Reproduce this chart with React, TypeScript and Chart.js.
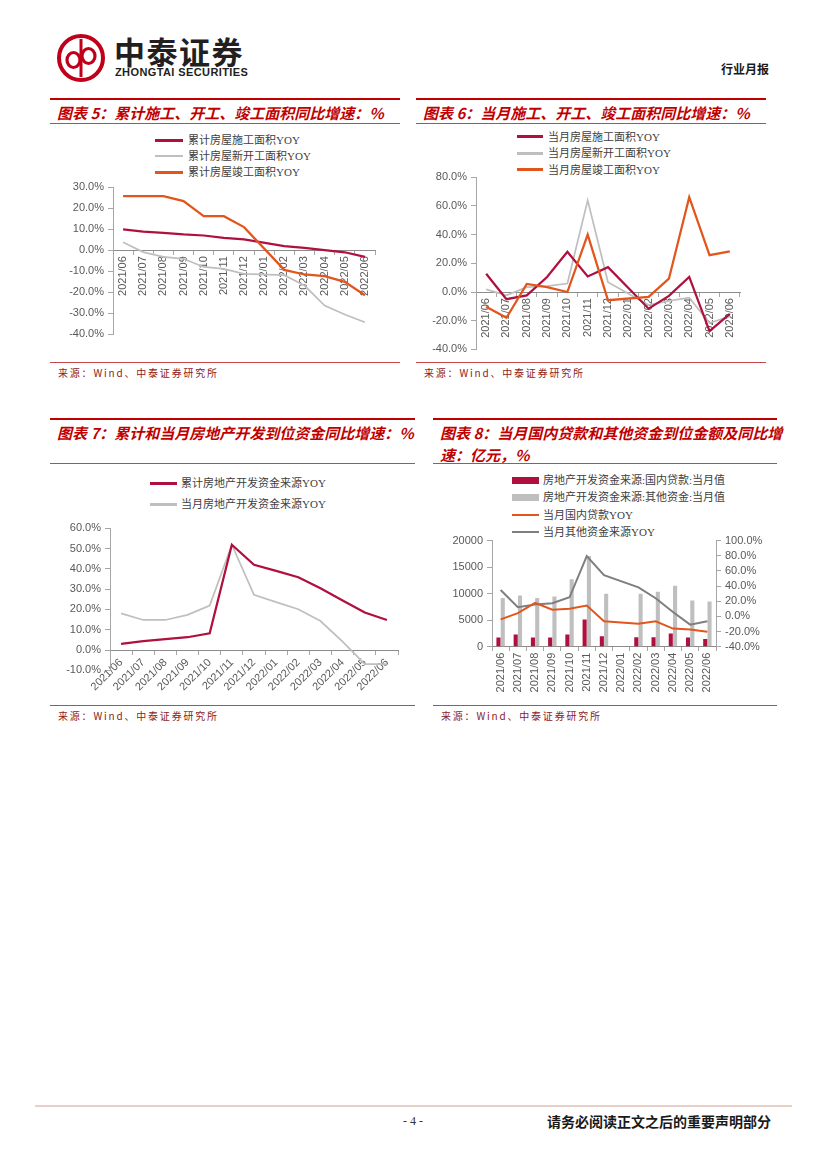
import React, { useEffect, useRef } from "react";
import { Chart, registerables } from "chart.js";
Chart.register(...registerables);

// ---------------- DATA ----------------
const months = ["2021/06", "2021/07", "2021/08", "2021/09", "2021/10", "2021/11", "2021/12", "2022/01", "2022/02", "2022/03", "2022/04", "2022/05", "2022/06"];

// 图表5 累计 (%)
const cumConstructionYoY = [9.9, 8.8, 8.3, 7.5, 7.0, 5.9, 5.1, null, 1.9, 1.1, 0.0, -1.0, -3.2];
const cumNewStartYoY = [3.8, -0.9, -3.2, -4.1, -8.0, -8.9, -11.3, null, -11.9, -16.9, -26.4, -30.7, -34.4];
const cumCompletionYoY = [25.8, 25.8, 25.8, 23.4, 16.2, 16.2, 11.0, null, -9.4, -11.6, -12.4, -15.1, -21.5];

// 图表6 当月 (%)
const monConstructionYoY = [12.7, -5.0, -2.3, 10.5, 28.0, 10.9, 17.3, null, -11.6, -2.7, 10.5, -27.3, -15.2];
const monNewStartYoY = [1.8, -2.3, 3.4, 4.1, 5.9, 63.9, 6.8, null, -9.1, -6.1, -3.9, -21.6, -17.0];
const monCompletionYoY = [-10.2, -18.0, 5.7, 3.4, 0.0, 40.0, -5.7, null, -3.4, 9.3, 66.1, 25.7, 28.4];

// 图表7 (%)
const cumFundsYoY = [3.0, 4.4, 5.4, 6.3, 8.2, 51.9, 42.0, 39.0, 35.9, 30.5, 24.4, 18.5, 14.8];
const monFundsYoY = [18.1, 14.8, 14.8, 17.3, 21.9, 51.9, 27.2, 23.6, 20.1, 14.3, 4.1, -6.9, -6.9];

// 图表8 (亿元 / %)
const domesticLoanMonthly = [1740, 2300, 1740, 1740, 2300, 5150, 1990, null, 1800, 1800, 2480, 1740, 1430];
const otherFundsMonthly = [9190, 9630, 9190, 9440, 12730, 17080, 10000, null, 10000, 10370, 11490, 8700, 8510];
const domesticLoanYoY = [-3.9, 4.3, 17.8, 8.7, 10.0, 14.3, -6.5, null, -9.6, -6.5, -16.1, -17.4, -20.4];
const otherFundsYoY = [34.8, 12.2, 15.7, 17.4, 25.2, 79.6, 54.3, null, 38.3, 23.9, 5.7, -10.9, -6.5];

// ---------------- STYLE ----------------
const CRIMSON = "#B0103E";
const ORANGE = "#E2561B";
const LGRAY = "#BFBFBF";
const DGRAY = "#7F7F7F";
const RED = "#C00000";
const tickFont = { family: "'Liberation Sans', Arial, sans-serif", size: 11 };
const tickColor = "#595959";
const axisColor = "#A6A6A6";
const cjk = "'Noto Sans CJK SC', 'Noto Sans', sans-serif";
const legendFont = "'Liberation Serif', 'Noto Sans CJK SC', serif";

type Box = { x: number; y: number; w: number; h: number };
type Plot = { l: number; r: number; t: number; b: number };

function padFor(box: Box, plot: Plot, yW: number, y2W: number) {
  return {
    left: plot.l - box.x - yW,
    right: box.x + box.w - plot.r - y2W,
    top: plot.t - box.y,
    bottom: box.y + box.h - plot.b,
  };
}

const pct = (v: any) => Number(v).toFixed(1) + "%";

function yAxis(min: number, max: number, step: number, fmt: (v: any) => string, position: string, width: number) {
  return {
    position,
    min,
    max,
    ticks: { stepSize: step, color: tickColor, font: tickFont, padding: 4, callback: fmt, autoSkip: false },
    grid: { drawOnChartArea: false, drawTicks: true, tickLength: 5, color: axisColor },
    border: { display: true, color: axisColor, width: 1 },
    afterFit: (s: any) => {
      s.width = width;
    },
  };
}

function xAxis(rotation: number, yId: string) {
  return {
    type: "category",
    position: { [yId]: 0 },
    offset: true,
    ticks: { color: tickColor, font: tickFont, autoSkip: false, minRotation: rotation, maxRotation: rotation, padding: 2 },
    grid: { offset: true, drawOnChartArea: false, drawTicks: true, tickLength: 4, color: axisColor },
    border: { display: true, color: "#8C8C8C", width: 1 },
  };
}

function line(label: string, data: any[], color: string, width: number, order: number, yAxisID = "y") {
  return {
    type: "line",
    label,
    data,
    borderColor: color,
    backgroundColor: color,
    borderWidth: width,
    pointRadius: 0,
    tension: 0,
    spanGaps: true,
    fill: false,
    order,
    yAxisID,
  };
}

const basePlugins = { legend: { display: false }, tooltip: { enabled: false }, title: { display: false } };

function ChartCanvas({ box, make }: { box: Box; make: () => any }) {
  const ref = useRef<HTMLCanvasElement>(null);
  useEffect(() => {
    const chart = new Chart(ref.current as HTMLCanvasElement, make());
    return () => chart.destroy();
  }, []);
  return (
    <canvas
      ref={ref}
      width={box.w}
      height={box.h}
      style={{ position: "absolute", left: box.x, top: box.y, width: box.w, height: box.h }}
    />
  );
}

// ---------------- CHART CONFIGS ----------------
const box5: Box = { x: 50, y: 170, w: 350, h: 190 };
const plot5: Plot = { l: 113, r: 375, t: 187.3, b: 334 };
const make5 = () => ({
  type: "line",
  data: {
    labels: months,
    datasets: [
      line("累计房屋施工面积YOY", cumConstructionYoY, CRIMSON, 2.25, 1),
      line("累计房屋新开工面积YOY", cumNewStartYoY, LGRAY, 1.75, 2),
      line("累计房屋竣工面积YOY", cumCompletionYoY, ORANGE, 2.25, 0),
    ],
  },
  options: {
    responsive: false,
    animation: false,
    events: [],
    layout: { padding: padFor(box5, plot5, 55, 0) },
    plugins: basePlugins,
    scales: { x: xAxis(90, "y"), y: yAxis(-40, 30, 10, pct, "left", 55) },
  },
});

const box6: Box = { x: 416, y: 165, w: 350, h: 195 };
const plot6: Plot = { l: 476, r: 740, t: 177.3, b: 353.3 };
const make6 = () => ({
  type: "line",
  data: {
    labels: months,
    datasets: [
      line("当月房屋施工面积YOY", monConstructionYoY, CRIMSON, 2.25, 1),
      line("当月房屋新开工面积YOY", monNewStartYoY, LGRAY, 1.75, 2),
      line("当月房屋竣工面积YOY", monCompletionYoY, ORANGE, 2.25, 0),
    ],
  },
  options: {
    responsive: false,
    animation: false,
    events: [],
    layout: { padding: padFor(box6, plot6, 55, 0) },
    plugins: basePlugins,
    scales: { x: xAxis(90, "y"), y: yAxis(-40, 80, 20, pct, "left", 55) },
  },
});

const box7: Box = { x: 50, y: 515, w: 365, h: 185 };
const plot7: Plot = { l: 110, r: 398, t: 528.3, b: 670.3 };
const make7 = () => ({
  type: "line",
  data: {
    labels: months,
    datasets: [
      line("累计房地产开发资金来源YOY", cumFundsYoY, CRIMSON, 2.25, 0),
      line("当月房地产开发资金来源YOY", monFundsYoY, LGRAY, 1.75, 1),
    ],
  },
  options: {
    responsive: false,
    animation: false,
    events: [],
    layout: { padding: padFor(box7, plot7, 55, 0) },
    plugins: basePlugins,
    scales: { x: xAxis(45, "y"), y: yAxis(-10, 60, 10, pct, "left", 55) },
  },
});

const box8: Box = { x: 433, y: 530, w: 344, h: 170 };
const plot8: Plot = { l: 492, r: 716, t: 539.3, b: 646.7 };
const make8 = () => ({
  type: "bar",
  data: {
    labels: months,
    datasets: [
      {
        type: "bar",
        label: "房地产开发资金来源:国内贷款:当月值",
        data: domesticLoanMonthly,
        backgroundColor: CRIMSON,
        categoryPercentage: 0.5,
        barPercentage: 0.95,
        order: 10,
        yAxisID: "y",
      },
      {
        type: "bar",
        label: "房地产开发资金来源:其他资金:当月值",
        data: otherFundsMonthly,
        backgroundColor: LGRAY,
        categoryPercentage: 0.5,
        barPercentage: 0.95,
        order: 11,
        yAxisID: "y",
      },
      line("当月国内贷款YOY", domesticLoanYoY, ORANGE, 2, 1, "y1"),
      line("当月其他资金来源YOY", otherFundsYoY, DGRAY, 2, 2, "y1"),
    ],
  },
  options: {
    responsive: false,
    animation: false,
    events: [],
    layout: { padding: padFor(box8, plot8, 50, 50) },
    plugins: basePlugins,
    scales: {
      x: xAxis(90, "y"),
      y: yAxis(0, 20000, 5000, (v: any) => String(v), "left", 50),
      y1: yAxis(-40, 100, 20, pct, "right", 50),
    },
  },
});

// ---------------- HTML PARTS ----------------
type LegItem = { label: string; color: string; kind: "line" | "box"; thick: number };

function Legend({ items, left, top, gap, markW, textGap }: { items: LegItem[]; left: number; top: number; gap: number; markW: number; textGap: number }) {
  return (
    <>
      {items.map((it, i) => (
        <div
          key={i}
          style={{
            position: "absolute",
            left,
            top: top + i * gap - 8,
            height: 16,
            display: "flex",
            alignItems: "center",
            whiteSpace: "nowrap",
          }}
        >
          <div style={{ width: markW, height: it.thick, background: it.color, marginRight: textGap }} />
          <span style={{ fontFamily: legendFont, fontSize: 11, color: "#404040", lineHeight: "16px" }}>{it.label}</span>
        </div>
      ))}
    </>
  );
}

function Frame({ x, w, thickY, titles, titleY, thinY, bottomY, sourceY }: { x: number; w: number; thickY: number; titles: string[]; titleY: number; thinY: number; bottomY: number; sourceY: number }) {
  return (
    <>
      <div style={{ position: "absolute", left: x, top: thickY, width: w, height: 2, background: RED }} />
      {titles.map((t, i) => (
        <div
          key={i}
          style={{
            position: "absolute",
            left: x + 7,
            top: titleY + i * 22 - 11,
            height: 22,
            lineHeight: "22px",
            fontFamily: cjk,
            fontWeight: 700,
            fontStyle: "italic",
            fontSize: 15,
            color: RED,
            whiteSpace: "nowrap",
          }}
        >
          {t}
        </div>
      ))}
      <div style={{ position: "absolute", left: x, top: thinY, width: w, height: 1, background: "#C8464A" }} />
      <div style={{ position: "absolute", left: x, top: bottomY, width: w, height: 1, background: "#C8464A" }} />
      <div
        style={{
          position: "absolute",
          left: x + 8,
          top: sourceY - 7,
          height: 14,
          lineHeight: "14px",
          fontFamily: cjk,
          fontSize: 10,
          letterSpacing: 1.8,
          color: "#8B2323",
          whiteSpace: "nowrap",
        }}
      >
        来源：Wind、中泰证券研究所
      </div>
    </>
  );
}

function Logo() {
  return (
    <svg style={{ position: "absolute", left: 56, top: 33 }} width={50} height={50} viewBox="0 0 50 50">
      <circle cx={25} cy={25} r={22} fill="#fff" stroke="#C0001A" strokeWidth={4} />
      <line x1={25} y1={6} x2={25} y2={44} stroke="#C0001A" strokeWidth={3} />
      <ellipse cx={17.5} cy={27} rx={6.5} ry={7.5} fill="none" stroke="#C0001A" strokeWidth={3.2} />
      <ellipse cx={32.5} cy={23} rx={6.5} ry={7.5} fill="none" stroke="#C0001A" strokeWidth={3.2} />
    </svg>
  );
}

export default function App() {
  return (
    <div style={{ position: "absolute", left: 0, top: 0, width: 827, height: 1169, background: "#fff", overflow: "hidden" }}>
      {/* Header */}
      <Logo />
      <div style={{ position: "absolute", left: 114, top: 33, fontFamily: cjk, fontWeight: 700, fontSize: 31, lineHeight: "36px", color: "#231F20", letterSpacing: 1.5, whiteSpace: "nowrap" }}>
        中泰证券
      </div>
      <div style={{ position: "absolute", left: 115, top: 65, fontFamily: "'Liberation Sans', Arial, sans-serif", fontWeight: 700, fontSize: 11, lineHeight: "14px", color: "#231F20", whiteSpace: "nowrap", letterSpacing: 0.4 }}>
        ZHONGTAI SECURITIES
      </div>
      <div style={{ position: "absolute", left: 721, top: 61, fontFamily: cjk, fontWeight: 700, fontSize: 12, lineHeight: "16px", color: "#1a1a1a", whiteSpace: "nowrap" }}>
        行业月报
      </div>

      {/* Chart 5 */}
      <Frame x={50} w={350} thickY={98} titles={["图表 5：累计施工、开工、竣工面积同比增速：%"]} titleY={113} thinY={123} bottomY={362} sourceY={373} />
      <Legend
        left={155}
        top={140}
        gap={16.2}
        markW={28}
        textGap={5}
        items={[
          { label: "累计房屋施工面积YOY", color: CRIMSON, kind: "line", thick: 3 },
          { label: "累计房屋新开工面积YOY", color: LGRAY, kind: "line", thick: 2.5 },
          { label: "累计房屋竣工面积YOY", color: ORANGE, kind: "line", thick: 3 },
        ]}
      />
      <ChartCanvas box={box5} make={make5} />

      {/* Chart 6 */}
      <Frame x={416} w={350} thickY={98} titles={["图表 6：当月施工、开工、竣工面积同比增速：%"]} titleY={113} thinY={123} bottomY={362} sourceY={373} />
      <Legend
        left={517}
        top={136.7}
        gap={16.6}
        markW={26}
        textGap={5}
        items={[
          { label: "当月房屋施工面积YOY", color: CRIMSON, kind: "line", thick: 3 },
          { label: "当月房屋新开工面积YOY", color: LGRAY, kind: "line", thick: 2.5 },
          { label: "当月房屋竣工面积YOY", color: ORANGE, kind: "line", thick: 3 },
        ]}
      />
      <ChartCanvas box={box6} make={make6} />

      {/* Chart 7 */}
      <Frame x={50} w={365} thickY={418} titles={["图表 7：累计和当月房地产开发到位资金同比增速：%"]} titleY={433} thinY={463} bottomY={705} sourceY={716} />
      <Legend
        left={150}
        top={483.3}
        gap={21}
        markW={27}
        textGap={4}
        items={[
          { label: "累计房地产开发资金来源YOY", color: CRIMSON, kind: "line", thick: 3 },
          { label: "当月房地产开发资金来源YOY", color: LGRAY, kind: "line", thick: 2.5 },
        ]}
      />
      <ChartCanvas box={box7} make={make7} />

      {/* Chart 8 */}
      <Frame x={433} w={344} thickY={418} titles={["图表 8：当月国内贷款和其他资金到位金额及同比增", "速：亿元，%"]} titleY={433} thinY={463} bottomY={705} sourceY={716} />
      <Legend
        left={512}
        top={480}
        gap={17.4}
        markW={27}
        textGap={4}
        items={[
          { label: "房地产开发资金来源:国内贷款:当月值", color: CRIMSON, kind: "box", thick: 7 },
          { label: "房地产开发资金来源:其他资金:当月值", color: LGRAY, kind: "box", thick: 7 },
          { label: "当月国内贷款YOY", color: ORANGE, kind: "line", thick: 2.5 },
          { label: "当月其他资金来源YOY", color: DGRAY, kind: "line", thick: 2.5 },
        ]}
      />
      <ChartCanvas box={box8} make={make8} />

      {/* Footer */}
      <div style={{ position: "absolute", left: 35, top: 1105, width: 757, height: 2, background: "#E8CFC8" }} />
      <div style={{ position: "absolute", left: 398, top: 1112, width: 30, textAlign: "center", fontFamily: "'Liberation Serif', serif", fontSize: 12, lineHeight: "18px", color: "#333", whiteSpace: "nowrap" }}>
        - 4 -
      </div>
      <div style={{ position: "absolute", left: 547, top: 1111, fontFamily: cjk, fontWeight: 700, fontSize: 14, lineHeight: "20px", color: "#1a1a1a", whiteSpace: "nowrap" }}>
        请务必阅读正文之后的重要声明部分
      </div>
    </div>
  );
}
